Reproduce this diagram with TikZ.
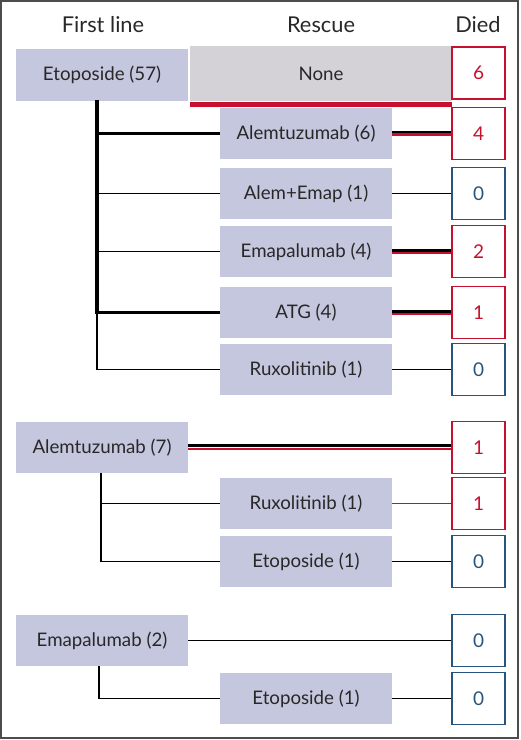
\documentclass[tikz,border=0pt]{standalone}
\usepackage{fontspec}
\setmainfont{Lato}
\usepackage{tikz}
\usetikzlibrary{positioning,calc}
\definecolor{lav}{RGB}{197,199,222}
\definecolor{nonegray}{RGB}{212,210,215}
\definecolor{diedred}{RGB}{200,16,46}
\definecolor{diedblue}{RGB}{40,85,125}
\definecolor{txt}{RGB}{40,40,40}
\begin{document}
\begin{tikzpicture}[x=0.025cm, y=-0.025cm,
  hdr/.style={font=\fontsize{15.5}{17}\selectfont, text=txt},
  drug/.style={fill=lav, text=txt, font=\fontsize{13.3}{15}\selectfont, minimum width=4.3cm, minimum height=1.275cm, inner sep=0pt},
  nonebox/.style={fill=nonegray, text=txt, font=\fontsize{13.3}{15}\selectfont, minimum width=6.55cm, minimum height=1.375cm, inner sep=0pt},
  died/.style={draw, line width=0.9pt, fill=white, font=\fontsize{13.5}{15}\selectfont, minimum width=1.325cm, minimum height=1.3cm, inner sep=0pt},
  dred/.style={died, draw=diedred, text=diedred},
  dblue/.style={died, draw=diedblue, text=diedblue},
  lnk/.style={line width=1.1pt, black},
  lnkbold/.style={line width=2.2pt, black},
  redlnk/.style={line width=1.1pt, diedred}
]
% Frame
\useasboundingbox (0,0) rectangle (520,740);
\draw[line width=1.2pt, black!70] (1,1) rectangle (518,738);

% Headers
\node[hdr] (hfirst) at (103,25) {First line};
\node[hdr] (hresc)  at (321,25) {Rescue};
\node[hdr] (hdied)  at (478,25) {Died};

% Etoposide group
\node[drug]    (etop)  at (102,75)    {Etoposide (57)};
\node[nonebox] (none)  at (321,73.5)  {None};
\node[dred]    (d6)    at (478.5,73)  {6};
\node[drug]    (alem6) at (306,133.5) {Alemtuzumab (6)};
\node[dred]    (d4)    at (478.5,133.5) {4};
\node[drug]    (aeap)  at (306,193.5) {Alem+Emap (1)};
\node[dblue]   (d0a)   at (478.5,193.5) {0};
\node[drug]    (emap4) at (306,251.5) {Emapalumab (4)};
\node[dred]    (d2)    at (478.5,251.5) {2};
\node[drug]    (atg)   at (306,312.5) {ATG (4)};
\node[dred]    (d1a)   at (478.5,312.5) {1};
\node[drug]    (rux)   at (306,369.5) {Ruxolitinib (1)};
\node[dblue]   (d0b)   at (478.5,369.5) {0};

% Alemtuzumab group
\node[drug]    (alem7) at (102,447.5) {Alemtuzumab (7)};
\node[dred]    (d1b)   at (478.5,447.5) {1};
\node[drug]    (rux1)  at (306,503.5) {Ruxolitinib (1)};
\node[dred]    (d1c)   at (478.5,503.5) {1};
\node[drug]    (etop1) at (306,561.5) {Etoposide (1)};
\node[dblue]   (d0c)   at (478.5,561.5) {0};

% Emapalumab group
\node[drug]    (emap2) at (102,640.5) {Emapalumab (2)};
\node[dblue]   (d0d)   at (478.5,640.5) {0};
\node[drug]    (etop2) at (306,698.5) {Etoposide (1)};
\node[dblue]   (d0e)   at (478.5,698.5) {0};

% Trunk points
\coordinate (t1) at (97,100);
\coordinate (t2) at (101,473);
\coordinate (t3) at (99,666);

% Red bar under None
\draw[line width=3.6pt, diedred] ($(none.south west)+(0,3)$) -- ($(none.south east)+(0,3)$);

% Etoposide branches
\draw[lnkbold] (t1) -- (t1 |- atg.west) -- (atg.west);
\draw[lnk] (t1 |- atg.west) -- (t1 |- rux.west) -- (rux.west);
\draw[line width=1.5pt] (t1 |- alem6.west) -- (alem6.west);
\draw[lnk] (t1 |- aeap.west) -- (aeap.west);
\draw[lnk] (t1 |- emap4.west) -- (emap4.west);

% Etoposide outcomes
\draw[line width=2.2pt, diedred] ($(alem6.east)+(0,1)$) -- ($(d4.west)+(0,1)$);
\draw[line width=1.5pt] ($(alem6.east)+(0,-1.5)$) -- ($(d4.west)+(0,-1.5)$);
\draw[lnk] (aeap.east) -- (d0a.west);
\draw[line width=1.2pt, diedred] ($(emap4.east)+(0,1.5)$) -- ($(d2.west)+(0,1.5)$);
\draw[line width=2.2pt] ($(emap4.east)+(0,-1)$) -- ($(d2.west)+(0,-1)$);
\draw[line width=1.2pt, diedred] ($(atg.east)+(0,1.5)$) -- ($(d1a.west)+(0,1.5)$);
\draw[line width=2.2pt] ($(atg.east)+(0,-1)$) -- ($(d1a.west)+(0,-1)$);
\draw[lnk] (rux.east) -- (d0b.west);

% Alemtuzumab branches and outcomes
\draw[lnk] (t2) -- (t2 |- etop1.west) -- (etop1.west);
\draw[lnk] (t2 |- rux1.west) -- (rux1.west);
\draw[line width=1.5pt] ($(alem7.east)+(0,-2)$) -- ($(d1b.west)+(0,-2)$);
\draw[line width=1.1pt, diedred] ($(alem7.east)+(0,1.5)$) -- ($(d1b.west)+(0,1.5)$);
\draw[redlnk] (rux1.east) -- (d1c.west);
\draw[lnk] (etop1.east) -- (d0c.west);

% Emapalumab branches and outcomes
\draw[lnk] (t3) -- (t3 |- etop2.west) -- (etop2.west);
\draw[lnk] (emap2.east) -- (d0d.west);
\draw[lnk] (etop2.east) -- (d0e.west);
\end{tikzpicture}
\end{document}
